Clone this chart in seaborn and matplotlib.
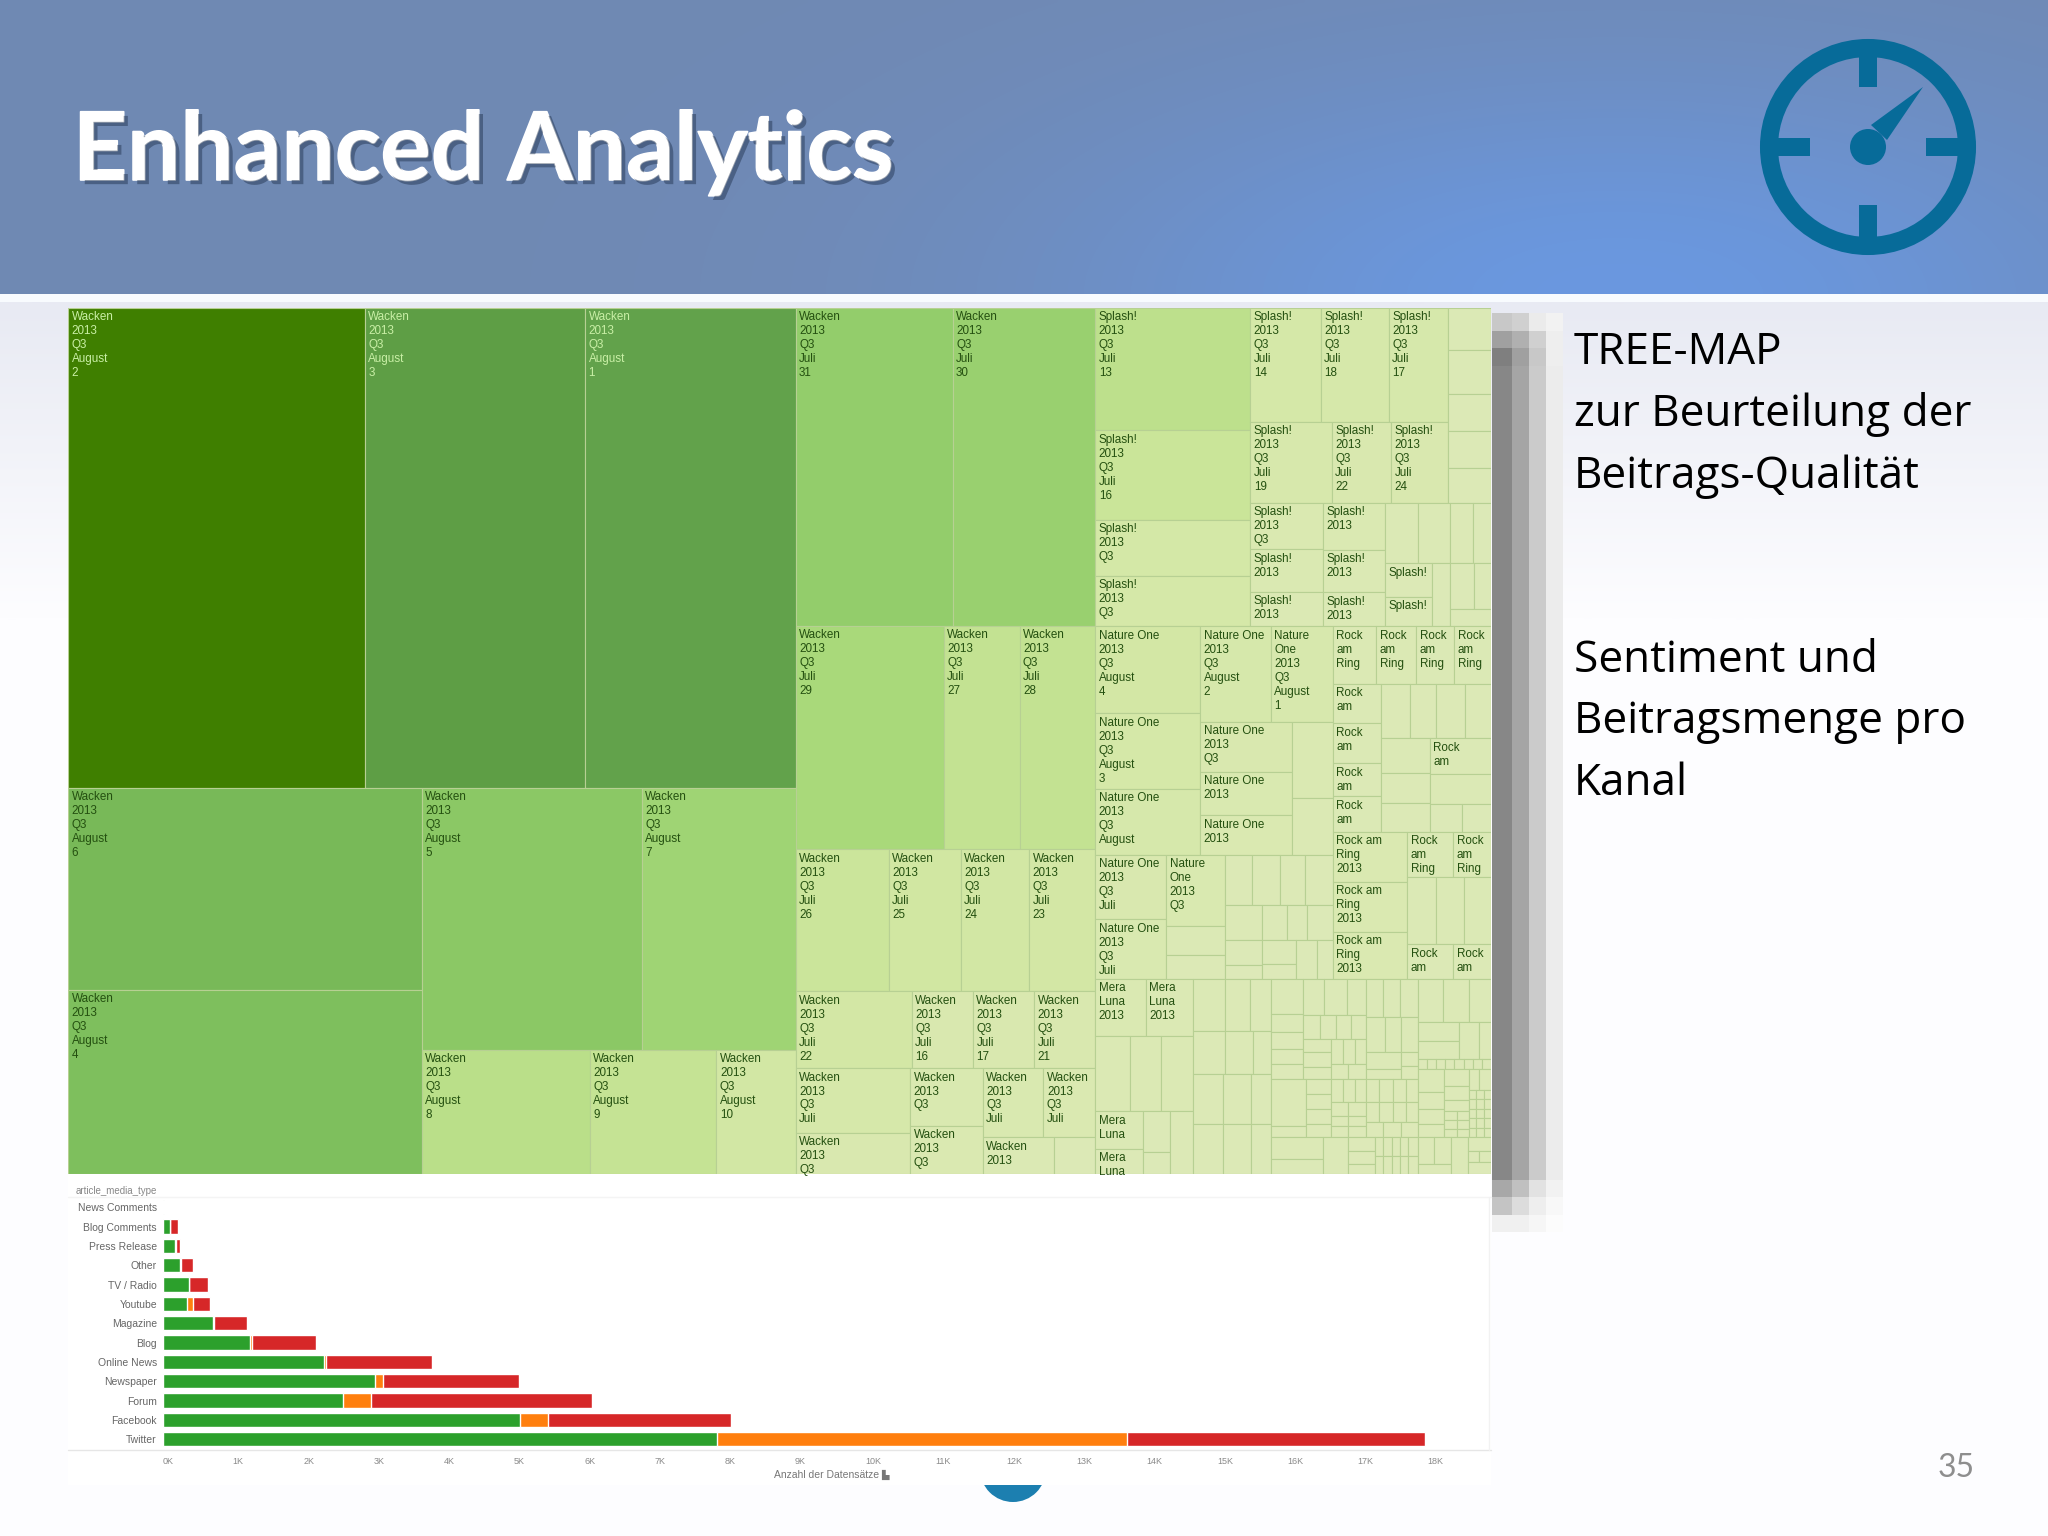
import numpy as np
import pandas as pd
import seaborn as sns
import matplotlib.pyplot as plt
import matplotlib.patheffects as pe
from matplotlib.colors import LinearSegmentedColormap
from matplotlib.patches import Circle, Rectangle, Polygon

# stacked bars: posts per channel and sentiment
channels = ["News Comments", "Blog Comments", "Press Release", "Other", "TV / Radio", "Youtube", "Magazine",
            "Blog", "Online News", "Newspaper", "Forum", "Facebook", "Twitter"]
positive = [20, 100, 180, 250, 370, 350, 720, 1240, 2300, 3030, 2570, 5090, 7890]
neutral = [0, 10, 10, 10, 10, 85, 10, 40, 30, 100, 400, 390, 5830]
negative = [0, 115, 60, 175, 270, 240, 470, 910, 1510, 1940, 3140, 2610, 4240]
bar_ticks = list(range(0, 19))

# treemap blocks, ["h"|"v", children...], a leaf is value or (value, label)
wa = "Wacken\n2013\nQ3\nAugust\n"
wj = "Wacken\n2013\nQ3\nJuli\n"
sj = "Splash!\n2013\nQ3\nJuli\n"
na = "Nature One\n2013\nQ3\nAugust"
rk = "Rock\nam\nRing"
rr = "Rock am\nRing\n2013"

wacken_august = ["v",
    ["h", (1421, wa + "2"), (1056, wa + "3"), (1008, wa + "1")],
    ["h",
        ["v", (713, wa + "6"), (650, wa + "4")],
        ["v",
            ["h", (576, wa + "5"), (403, wa + "7")],
            ["h", (208, wa + "8"), (157, wa + "9"), (98, wa + "10")]]]]

wacken_july = ["v",
    ["h", (498, wj + "31"), (453, wj + "30")],
    ["h", (330, wj + "29"), (169, wj + "27"), (169, wj + "28")],
    ["h", (132, wj + "26"), (102, wj + "25"), (97, wj + "24"), (94, wj + "23")],
    ["h", (89, wj + "22"), (47, wj + "16"), (47, wj + "17"), (47, wj + "21")],
    ["h",
        ["v", (74, "Wacken\n2013\nQ3\nJuli"), (47, "Wacken\n2013\nQ3")],
        ["v", (42, "Wacken\n2013\nQ3"), (35, "Wacken\n2013\nQ3")],
        ["v",
            ["h", (42, "Wacken\n2013\nQ3\nJuli"), (36, "Wacken\n2013\nQ3\nJuli")],
            ["h", (26, "Wacken\n2013"), 15]]]]

splash = ["h",
    ["v", (189, sj + "13"), (138, sj + "16"), (87, "Splash!\n2013\nQ3"), (78, "Splash!\n2013\nQ3")],
    ["v",
        ["h",
            ["v",
                ["h", (80, sj + "14"), (77, sj + "18"), (67, sj + "17")],
                ["h", (66, sj + "19"), (48, sj + "22"), (46, sj + "24")]],
            ["v", 18, 19, 16, 16, 15]],
        ["h",
            ["v", (34, "Splash!\n2013\nQ3"), (31, "Splash!\n2013"), (25, "Splash!\n2013")],
            ["v", (29, "Splash!\n2013"), (26, "Splash!\n2013"), (21, "Splash!\n2013")],
            ["v",
                ["h", 20, 19, 14, 11],
                ["h",
                    ["v", (16, "Splash!"), (14, "Splash!")],
                    11,
                    ["v", ["h", 11, 8], 7]]]]]]

nature_one = ["v",
    ["h",
        ["v", (91, na + "\n4"), (79, na + "\n3"), (69, na)],
        ["v",
            ["h", (67, na + "\n2"), (59, "Nature\nOne\n2013\nQ3\nAugust\n1")],
            ["h",
                ["v", (46, "Nature One\n2013\nQ3"), (40, "Nature One\n2013"), (36, "Nature One\n2013")],
                ["v", 31, 23]]]],
    ["h",
        ["v", (46, "Nature One\n2013\nQ3\nJuli"), (42, "Nature One\n2013\nQ3\nJuli")],
        ["v", (42, "Nature\nOne\n2013\nQ3"), 17, 14],
        ["v",
            ["h", 13.5, 14, 12.5, 14],
            ["h", 13, 9, 7, 9],
            ["h", ["v", 9, 5], ["v", 8, 5], 8, 6]]]]

rock_am_ring = ["v",
    ["h", (25, rk), (23, rk), (22, rk), (21, rk)],
    ["h",
        ["v", (19, "Rock\nam"), (19, "Rock\nam"), (16, "Rock\nam"), (17, "Rock\nam")],
        ["v",
            ["h", 16, 14, 16, 14],
            ["h",
                ["v", 17, 15, 14],
                ["v", (22, "Rock\nam"), 18, ["h", 9, 8]]]]],
    ["h",
        ["v", (37, rr), (37, rr), (35, rr)],
        ["v",
            ["h", (21, rk), (17, rk)],
            ["h", 19, 19, 18],
            ["h", (16, "Rock\nam"), (13, "Rock\nam")]]]]

mera_luna = ["v",
    ["h", (29, "Mera\nLuna\n2013"), (27, "Mera\nLuna\n2013")],
    ["h", 26, 23, 24],
    ["h",
        ["v", (18, "Mera\nLuna"), (12, "Mera\nLuna")],
        ["v", 11, 6],
        14]]

tail_left = ["v",
    ["h", 17, 13, 11],
    ["h", 14, 12, 8],
    ["h", ["v", 15, 15], ["v", 14, 14], ["v", 10, 10]]]

tail_upper_a = ["h",
    ["v", 11, 5.8, 5.3, 4.8, 4.7],
    ["v",
        ["h", 7.9, 8.2, 7.1],
        ["h", 3.9, 3.9, 3.5, 3.5],
        ["h",
            ["v", 3.8, 4.3, 3.3],
            ["v", ["h", 2.9, 2.9, 2.9], ["h", 2.5, 2.8]]]]]

tail_upper_b = ["v",
    ["h", 6.6, 6.4, 6.8],
    ["h", 6.4, 5.8, 5.8],
    ["h", ["v", 5.8, 3.5], ["v", 2.2, 2.2]]]

tail_lower = ["h",
    ["v", 16.3, 4.1],
    ["v", 3.8, 3.8, 3.8, 3.3],
    ["v", ["h", 2.7, 2.7, 2.7], ["h", 2.2, 2.4], ["h", 1.7, 1.8], ["h", 1.9, 2.1]],
    ["v", ["h", 3.1, 3.1, 3.1, 2.7], ["h", 2.7, 2.7, 2.7, 2.3], ["h", 2.5, 2.8, 2.5]]]

tail_foot = ["h",
    ["v", 11.2, 7.8],
    9.2,
    ["v", 3.6, 3.6, 2.7],
    ["v", ["h", 1.5, 1.5, 1.5, 1.5, 1.8], ["h", 1.5, 1.5, 1.5, 1.5, 1.8]]]

tail_side = ["v",
    ["h", 10.8, 11.6, 9.4],
    ["h", ["v", 7.6, 7.6], 7.3, 4.3],
    ["h", 0.9, 0.9, 0.9, 0.9, 0.9, 0.9, 0.9, 0.9],
    ["h",
        ["v", 6.2, 4.4, 4.0, 3.6],
        ["v", 4.2, 3.3, 2.9, ["h", 1.1, 1.0], ["h", 1.1, 1.0], ["h", 1.1, 1.0]],
        ["v", ["h", 2.2, 2.5],
            ["h", 0.7, 0.7, 0.7], ["h", 0.7, 0.7, 0.7], ["h", 0.7, 0.7, 0.7], ["h", 0.7, 0.7, 0.7], ["h", 0.7, 0.7, 0.7]]],
    ["h",
        ["v", ["h", 4.4, 4.4], 3.3],
        6.1,
        ["v", 3.1, ["h", 1.4, 1.4], 2.7]]]

# colour stops of the treemap: cell value -> colour
color_stops = [(0, "#DDE9B8"), (80, "#D5E8A8"), (130, "#CBE59A"), (200, "#BBDF8A"), (330, "#A9D97A"),
               (500, "#92CD6B"), (580, "#8AC864"), (680, "#7ABC5A"), (1030, "#60A04A"), (1421, "#3F7F00")]

# slide text
slide_title = "Enhanced Analytics"
side_lines = [("TREE-MAP", 364), ("zur Beurteilung der", 426), ("Beitrags-Qualität", 488),
              ("Sentiment und", 672), ("Beitragsmenge pro", 733), ("Kanal", 795)]
page_number = "35"

# pixelated drop shadow right of the treemap, grey levels by row and column
shadow_top = [[200, 208, 235, 242], [160, 176, 208, 238], [127, 160, 200, 238]]
shadow_mid = [[135, 165, 203, 236]]
shadow_end = [[168, 192, 226, 242], [196, 220, 238, 248], [240, 240, 246, 252]]


def node_value(node):
    if isinstance(node, list):
        return sum(node_value(c) for c in node[1:])
    if isinstance(node, tuple):
        return node[0]
    return node


def layout(node, x, y, w, h, out):
    if isinstance(node, list):
        total = node_value(node)
        for child in node[1:]:
            share = node_value(child) / total
            if node[0] == "h":
                layout(child, x, y, w * share, h, out)
                x += w * share
            else:
                layout(child, x, y, w, h * share, out)
                y += h * share
    else:
        label = node[1] if isinstance(node, tuple) else ""
        out.append({"x": x, "y": y, "w": w, "h": h, "value": node_value(node), "label": label})


def px_axes(fig, x0, y0, x1, y1, **kw):
    # axes placed by slide pixels, origin top left
    return fig.add_axes([x0 / 2048, 1 - y1 / 1536, (x1 - x0) / 2048, (y1 - y0) / 1536], **kw)


sns.set_theme(style="white")
plt.rcParams["font.family"] = ["Liberation Sans", "DejaVu Sans"]

fig = plt.figure(figsize=(20.48, 15.36), dpi=100)

# slide background
bg = fig.add_axes([0, 0, 1, 1])
xx, yy = np.meshgrid(np.linspace(0, 2048, 256), np.linspace(0, 294, 64))
glow = np.exp(-(((xx - 1620) / 560) ** 2 + ((yy - 300) / 230) ** 2))[..., None]
header = np.array([0x70, 0x89, 0xB3]) * (1 - glow) + np.array([0x6A, 0x98, 0xE0]) * glow
bg.imshow(header / 255, extent=(0, 2048, 294, 0), aspect="auto", interpolation="bilinear")
fade = np.linspace(0, 1, 64)[:, None, None]
lower = np.array([0xE8, 0xEA, 0xF3]) * (1 - fade) + np.array([0xFD, 0xFD, 0xFF]) * fade
bg.imshow(lower / 255, extent=(0, 2048, 620, 302), aspect="auto", interpolation="bilinear")
bg.add_patch(Rectangle((0, 620), 2048, 916, color="#FDFDFF", lw=0))
bg.add_patch(Rectangle((0, 294), 2048, 8, color="#F8FBFE", lw=0))

# drop shadow
shadow = np.vstack([shadow_top, shadow_mid, shadow_end]) / 255
rows = [313, 331, 348, 366, 1180, 1197, 1215, 1232]
for r in range(len(shadow)):
    for c, (cx0, cx1) in enumerate([(1492, 1512), (1512, 1529), (1529, 1546), (1546, 1563)]):
        bg.add_patch(Rectangle((cx0, rows[r]), cx1 - cx0, rows[r + 1] - rows[r], color=str(shadow[r][c]), lw=0))

# half circle of the logo, cut by the white screenshot panel
bg.add_patch(Circle((1013, 1469), 33, color="#1C7FB0", lw=0))
bg.add_patch(Rectangle((68, 1174), 1423, 311, color="white", lw=0))
bg.plot([68, 1491], [1197, 1197], color="#F4F4F4", lw=1)
bg.plot([68, 1491], [1450, 1450], color="#E6E6E6", lw=1)
bg.plot([1489, 1489], [1197, 1450], color="#F2F2F2", lw=1)

# gauge icon
teal = "#076B99"
bg.add_patch(Circle((1868, 147), 99, fill=False, ec=teal, lw=13))
for tx, ty, tw, th in [(1859, 55, 18, 32), (1859, 205, 18, 32), (1776, 138, 34, 18), (1926, 138, 32, 18)]:
    bg.add_patch(Rectangle((tx, ty), tw, th, color=teal, lw=0))
bg.add_patch(Circle((1868, 147), 18, color=teal, lw=0))
bg.add_patch(Polygon([(1923, 87), (1871, 125), (1887, 140)], color=teal, lw=0))

bg.text(73, 180, slide_title, color="white", fontsize=68, fontweight="bold", family="Lato", va="baseline",
        path_effects=[pe.withStroke(linewidth=1.2, foreground="white"),
                      pe.SimplePatchShadow(offset=(3, -3), shadow_rgbFace="#1E2F4A", alpha=0.45), pe.Normal()])
for line, base in side_lines:
    bg.text(1574, base, line, color="black", fontsize=31.8, family="Open Sans", va="baseline")
bg.text(1956, 1468, page_number, color="#8E8E8E", fontsize=23, family="Lato", ha="center", va="center")
bg.set_xlim(0, 2048)
bg.set_ylim(1536, 0)
bg.axis("off")

# treemap
cells = []
tail_right = ["h",
    ["v", ["h", tail_upper_a, tail_upper_b], ["v", tail_lower, tail_foot]],
    tail_side]
tree = ["h", wacken_august, wacken_july,
        ["v", splash, ["h", nature_one, rock_am_ring], ["h", mera_luna, ["h", tail_left, tail_right]]]]
layout(tree, 0, 0, 1, 1, cells)
cells = pd.DataFrame(cells)
top_value = color_stops[-1][0]
treemap_cmap = LinearSegmentedColormap.from_list("treemap", [(v / top_value, c) for v, c in color_stops])

ax = px_axes(fig, 68, 308, 1491, 1174)
ax.bar(cells["x"], cells["h"], width=cells["w"], bottom=cells["y"], align="edge",
       color=treemap_cmap(cells["value"] / top_value), edgecolor="#B7D093", linewidth=0.8)
for row in cells[cells["label"] != ""].itertuples():
    ann = ax.annotate(row.label, (row.x, row.y), xytext=(2.5, -2.5), textcoords="offset points", va="top", ha="left",
                      fontsize=8.4, linespacing=1.22, color="#C9EFA6" if row.value > 900 else "#245010",
                      annotation_clip=False)
    ann.set_clip_on(True)
ax.set_xlim(0, 1)
ax.set_ylim(1, 0)
ax.axis("off")

# stacked bars, longest total first so the shorter parts stay on top
bars = pd.DataFrame({"channel": channels, "positive": positive, "neutral": neutral, "negative": negative})
bars["to_neutral"] = bars["positive"] + bars["neutral"]
bars["to_negative"] = bars["to_neutral"] + bars["negative"]

ax_bar = px_axes(fig, 162.5, 1197.6, 1491, 1449)
ax_bar.patch.set_alpha(0)
for col, color in [("to_negative", "#D62728"), ("to_neutral", "#FF7F0E"), ("positive", "#2CA02C")]:
    sns.barplot(data=bars, y="channel", x=col, order=channels, color=color, width=0.74, saturation=1,
                errorbar=None, ax=ax_bar)
sns.despine(ax=ax_bar, left=True, bottom=True)
ax_bar.set_xlim(0, 18900)
ax_bar.set_ylim(12.5, -0.5)
ax_bar.set_xticks([k * 1000 for k in bar_ticks], [f"{k}K" for k in bar_ticks], fontsize=6.5, color="#8A8A8A", ha="left")
ax_bar.tick_params(axis="x", length=0, pad=6)
ax_bar.tick_params(axis="y", length=0, pad=4, labelsize=7.5, labelcolor="#666666")
ax_bar.set_xlabel("")
ax_bar.set_ylabel("")

bg.text(157, 1191, "article_media_type", color="#888888", fontsize=7, ha="right", va="center")
bg.text(827, 1475, "Anzahl der Datensätze", color="#777777", fontsize=7.5, ha="center", va="center")
bg.text(885, 1475, "▙", color="#777777", fontsize=7, family="DejaVu Sans", ha="center", va="center")

fig.savefig("out.png", dpi=100)
